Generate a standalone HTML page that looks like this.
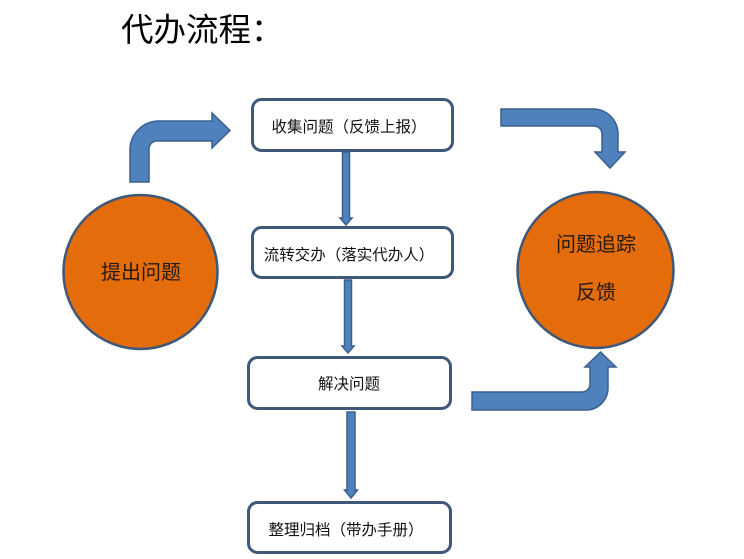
<!DOCTYPE html>
<html>
<head>
<meta charset="utf-8">
<style>
  html, body { margin: 0; padding: 0; background: #ffffff; }
  body { width: 744px; height: 559px; overflow: hidden; position: relative; }
  svg { position: absolute; left: 0; top: 0; }
  text { font-family: "Liberation Sans", "Noto Sans CJK SC", "WenQuanYi Zen Hei", sans-serif; }
</style>
</head>
<body>
<svg width="744" height="559" viewBox="0 0 744 559" xmlns="http://www.w3.org/2000/svg">
  <!-- Title -->
  <text x="121" y="41" font-size="32.5" fill="#000">代办流程：</text>

  <!-- Left circle -->
  <circle cx="140.5" cy="272" r="77" fill="#E46C0A" stroke="#3F5879" stroke-width="2.5"/>
  <text x="141" y="279" font-size="20" fill="#231a14" text-anchor="middle">提出问题</text>

  <!-- Right circle -->
  <circle cx="595.5" cy="270" r="78" fill="#E46C0A" stroke="#3F5879" stroke-width="2.5"/>
  <text x="596" y="251" font-size="20" fill="#231a14" text-anchor="middle">问题追踪</text>
  <text x="596" y="299" font-size="20" fill="#231a14" text-anchor="middle">反馈</text>

  <!-- Boxes -->
  <rect x="252.5" y="99.5" width="200" height="51" rx="9" ry="9" fill="#fff" stroke="#3F5879" stroke-width="3"/>
  <text x="349" y="132" font-size="15.5" fill="#111" text-anchor="middle">收集问题（反馈上报）</text>

  <rect x="252.5" y="227.5" width="200" height="50" rx="9" ry="9" fill="#fff" stroke="#3F5879" stroke-width="3"/>
  <text x="349" y="260" font-size="15.5" fill="#111" text-anchor="middle">流转交办（落实代办人）</text>

  <rect x="248.5" y="357.5" width="202" height="51" rx="9" ry="9" fill="#fff" stroke="#3F5879" stroke-width="3"/>
  <text x="349" y="389" font-size="15.5" fill="#111" text-anchor="middle">解决问题</text>

  <rect x="248.5" y="502.5" width="202" height="50" rx="9" ry="9" fill="#fff" stroke="#3F5879" stroke-width="3"/>
  <text x="346" y="535" font-size="15.5" fill="#111" text-anchor="middle">整理归档（带办手册）</text>

  <!-- Vertical connector arrows -->
  <path d="M342.5,152 L349.5,152 L349.5,218 L352,218 L346,225 L340,218 L342.5,218 Z" fill="#4F81BD" stroke="#3A5F8C" stroke-width="1.5"/>
  <path d="M344.5,280 L351.5,280 L351.5,346 L354,346 L348,353 L342,346 L344.5,346 Z" fill="#4F81BD" stroke="#3A5F8C" stroke-width="1.5"/>
  <path d="M347,412 L355,412 L355,490 L357.5,490 L351,498 L344.5,490 L347,490 Z" fill="#4F81BD" stroke="#3A5F8C" stroke-width="1.5"/>

  <!-- Top-left bent arrow -->
  <path d="M130,182 L130,150 A29,29 0 0 1 159,121 L212,121 L212,113 L230,130.5 L212,148 L212,141 L157,141 A8,8 0 0 0 149,149 L149,182 Z"
        fill="#4F81BD" stroke="#3A5F8C" stroke-width="1.5" stroke-linejoin="miter"/>

  <!-- Top-right bent arrow -->
  <path d="M501,109 L593,109 A25,25 0 0 1 618,134 L618,152 L625,152 L610,168 L595,152 L602,152 L602,134 A8,8 0 0 0 594,126 L501,126 Z"
        fill="#4F81BD" stroke="#3A5F8C" stroke-width="1.5"/>

  <!-- Bottom-right bent arrow -->
  <path d="M472,392 L582,392 A8,8 0 0 0 590,384 L590,367 L585,367 L600.5,352 L616,367 L608,367 L608,388 A22,22 0 0 1 586,410 L472,410 Z"
        fill="#4F81BD" stroke="#3A5F8C" stroke-width="1.5"/>
</svg>
</body>
</html>
